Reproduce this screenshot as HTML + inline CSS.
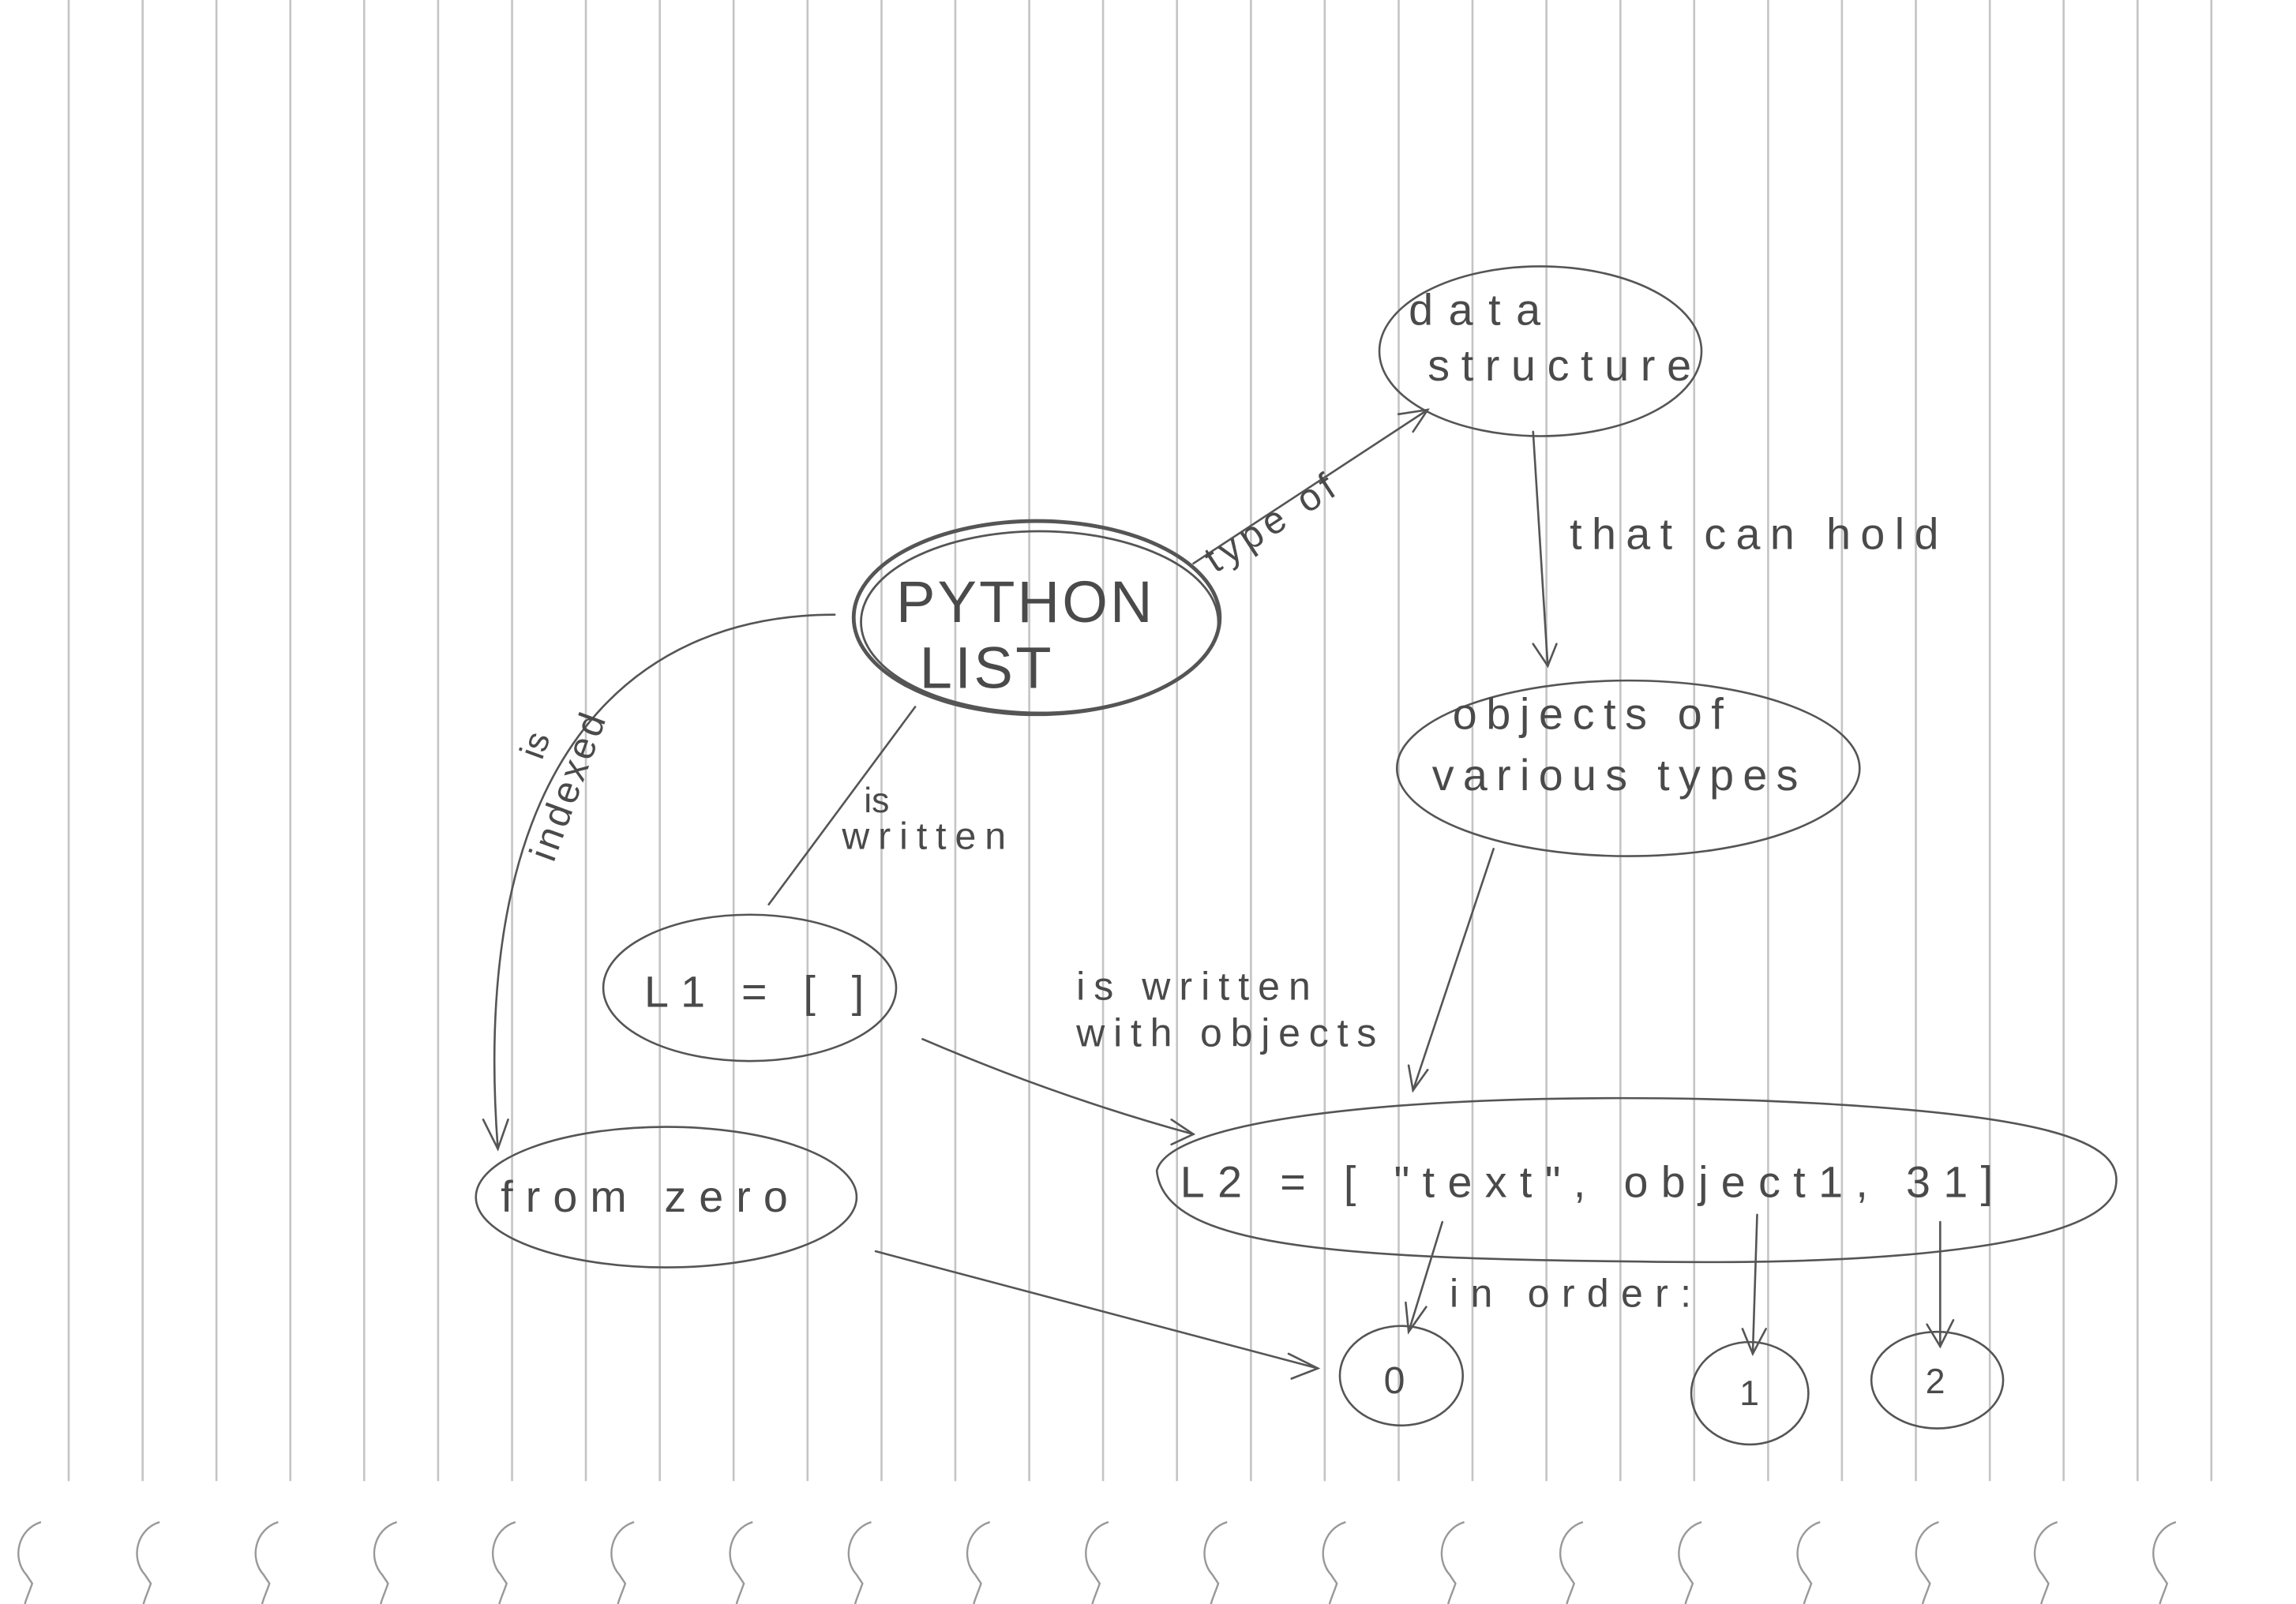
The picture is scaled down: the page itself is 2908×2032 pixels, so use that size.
<!DOCTYPE html>
<html><head><meta charset="utf-8"><style>
html,body{margin:0;padding:0;background:#fff;}
svg{display:block;}
text{font-family:"Liberation Sans",sans-serif;fill:#4a4a4a;}
</style></head><body>
<svg width="2908" height="2032" viewBox="0 0 1568 1096" preserveAspectRatio="none" xmlns="http://www.w3.org/2000/svg">
<rect width="1568" height="1096" fill="#fff"/>
<g stroke="#c4c4c4" stroke-width="1.4">
<line x1="46.9" y1="0" x2="46.9" y2="1012"/><line x1="97.4" y1="0" x2="97.4" y2="1012"/><line x1="147.8" y1="0" x2="147.8" y2="1012"/><line x1="198.3" y1="0" x2="198.3" y2="1012"/><line x1="248.7" y1="0" x2="248.7" y2="1012"/><line x1="299.2" y1="0" x2="299.2" y2="1012"/><line x1="349.7" y1="0" x2="349.7" y2="1012"/><line x1="400.1" y1="0" x2="400.1" y2="1012"/><line x1="450.6" y1="0" x2="450.6" y2="1012"/><line x1="501" y1="0" x2="501" y2="1012"/><line x1="551.5" y1="0" x2="551.5" y2="1012"/><line x1="602" y1="0" x2="602" y2="1012"/><line x1="652.4" y1="0" x2="652.4" y2="1012"/><line x1="702.9" y1="0" x2="702.9" y2="1012"/><line x1="753.3" y1="0" x2="753.3" y2="1012"/><line x1="803.8" y1="0" x2="803.8" y2="1012"/><line x1="854.3" y1="0" x2="854.3" y2="1012"/><line x1="904.7" y1="0" x2="904.7" y2="1012"/><line x1="955.2" y1="0" x2="955.2" y2="1012"/><line x1="1005.6" y1="0" x2="1005.6" y2="1012"/><line x1="1056.1" y1="0" x2="1056.1" y2="1012"/><line x1="1106.6" y1="0" x2="1106.6" y2="1012"/><line x1="1157" y1="0" x2="1157" y2="1012"/><line x1="1207.5" y1="0" x2="1207.5" y2="1012"/><line x1="1257.9" y1="0" x2="1257.9" y2="1012"/><line x1="1308.4" y1="0" x2="1308.4" y2="1012"/><line x1="1358.9" y1="0" x2="1358.9" y2="1012"/><line x1="1409.3" y1="0" x2="1409.3" y2="1012"/><line x1="1459.8" y1="0" x2="1459.8" y2="1012"/><line x1="1510.2" y1="0" x2="1510.2" y2="1012"/>
</g>
<g fill="none" stroke="#999" stroke-width="1.3">
<path id="r" d="M28 1040 C12 1045 8 1065 18 1076 L22 1082 C20 1088 18 1092 17 1096"/>
<use href="#r" x="81"/><use href="#r" x="162"/><use href="#r" x="243"/><use href="#r" x="324"/><use href="#r" x="405"/><use href="#r" x="486"/><use href="#r" x="567"/><use href="#r" x="648"/><use href="#r" x="729"/><use href="#r" x="810"/><use href="#r" x="891"/><use href="#r" x="972"/><use href="#r" x="1053"/><use href="#r" x="1134"/><use href="#r" x="1215"/><use href="#r" x="1296"/><use href="#r" x="1377"/><use href="#r" x="1458"/>
</g>
<g fill="none" stroke="#555" stroke-width="1.4" stroke-linecap="round">
<ellipse cx="708" cy="422" rx="125" ry="66" stroke-width="2.6"/>
<ellipse cx="710" cy="425" rx="122" ry="62" stroke-width="1.5"/>
<ellipse cx="1052" cy="240" rx="110" ry="58"/>
<ellipse cx="1112" cy="525" rx="158" ry="60"/>
<ellipse cx="512" cy="675" rx="100" ry="50"/>
<ellipse cx="455" cy="818" rx="130" ry="48"/>
<path d="M790 800 C800 760 1000 745 1200 752 C1400 760 1450 780 1445 810 C1440 850 1300 865 1120 862 C900 860 795 850 790 800 Z"/>
<ellipse cx="957" cy="940" rx="42" ry="34"/>
<ellipse cx="1195" cy="952" rx="40" ry="35"/>
<ellipse cx="1323" cy="943" rx="45" ry="33"/>
<path d="M815 385 L975 280"/><path d="M955 283 L975 280 L965 295"/>
<path d="M1047 295 L1057 455"/><path d="M1047 440 L1057 455 L1063 440"/>
<path d="M1020 580 L965 745"/><path d="M962 728 L965 745 L975 731"/>
<path d="M625 483 L525 618"/>
<path d="M570 420 C430 420 320 520 340 785"/><path d="M330 765 L340 785 L347 765"/>
<path d="M630 710 C700 740 760 760 815 775"/><path d="M800 765 L815 775 L800 782"/>
<path d="M985 835 L962 910"/><path d="M960 890 L962 910 L974 893"/>
<path d="M1200 830 L1197 925"/><path d="M1190 908 L1197 925 L1206 908"/>
<path d="M1325 835 L1325 920"/><path d="M1316 905 L1325 920 L1334 902"/>
<path d="M598 855 L900 935"/><path d="M880 925 L900 935 L882 942"/>
</g>
<g font-size="30">
<text x="612" y="425" font-size="40" textLength="175">PYTHON</text>
<text x="628" y="470" font-size="40" textLength="90">LIST</text>
<text x="962" y="222" textLength="90">data</text>
<text x="975" y="260" textLength="180">structure</text>
<text x="1072" y="375" textLength="252">that can hold</text>
<text x="992" y="498" textLength="185">objects of</text>
<text x="978" y="540" textLength="250">various types</text>
<text x="440" y="688" textLength="150">L1 = [ ]</text>
<text x="342" y="828" textLength="196">from zero</text>
<text x="806" y="818" textLength="555">L2 = [ "text", object1, 31]</text>
<text x="990" y="893" font-size="27" textLength="165">in  order:</text>
<text x="735" y="683" font-size="27" textLength="160">is written</text>
<text x="735" y="715" font-size="27" textLength="205">with objects</text>
<text x="590" y="555" font-size="24">is</text>
<text x="575" y="580" font-size="26" textLength="112">written</text>
<text x="945" y="952" font-size="26">0</text>
<text x="1188" y="960" font-size="24">1</text>
<text x="1315" y="952" font-size="24">2</text>
<text transform="translate(830,392) rotate(-33)" font-size="26" textLength="100">type of</text>
<text transform="translate(370,520) rotate(-70)" font-size="24">is</text>
<text transform="translate(378,590) rotate(-70)" font-size="26" textLength="105">indexed</text>
</g>
</svg>
</body></html>
